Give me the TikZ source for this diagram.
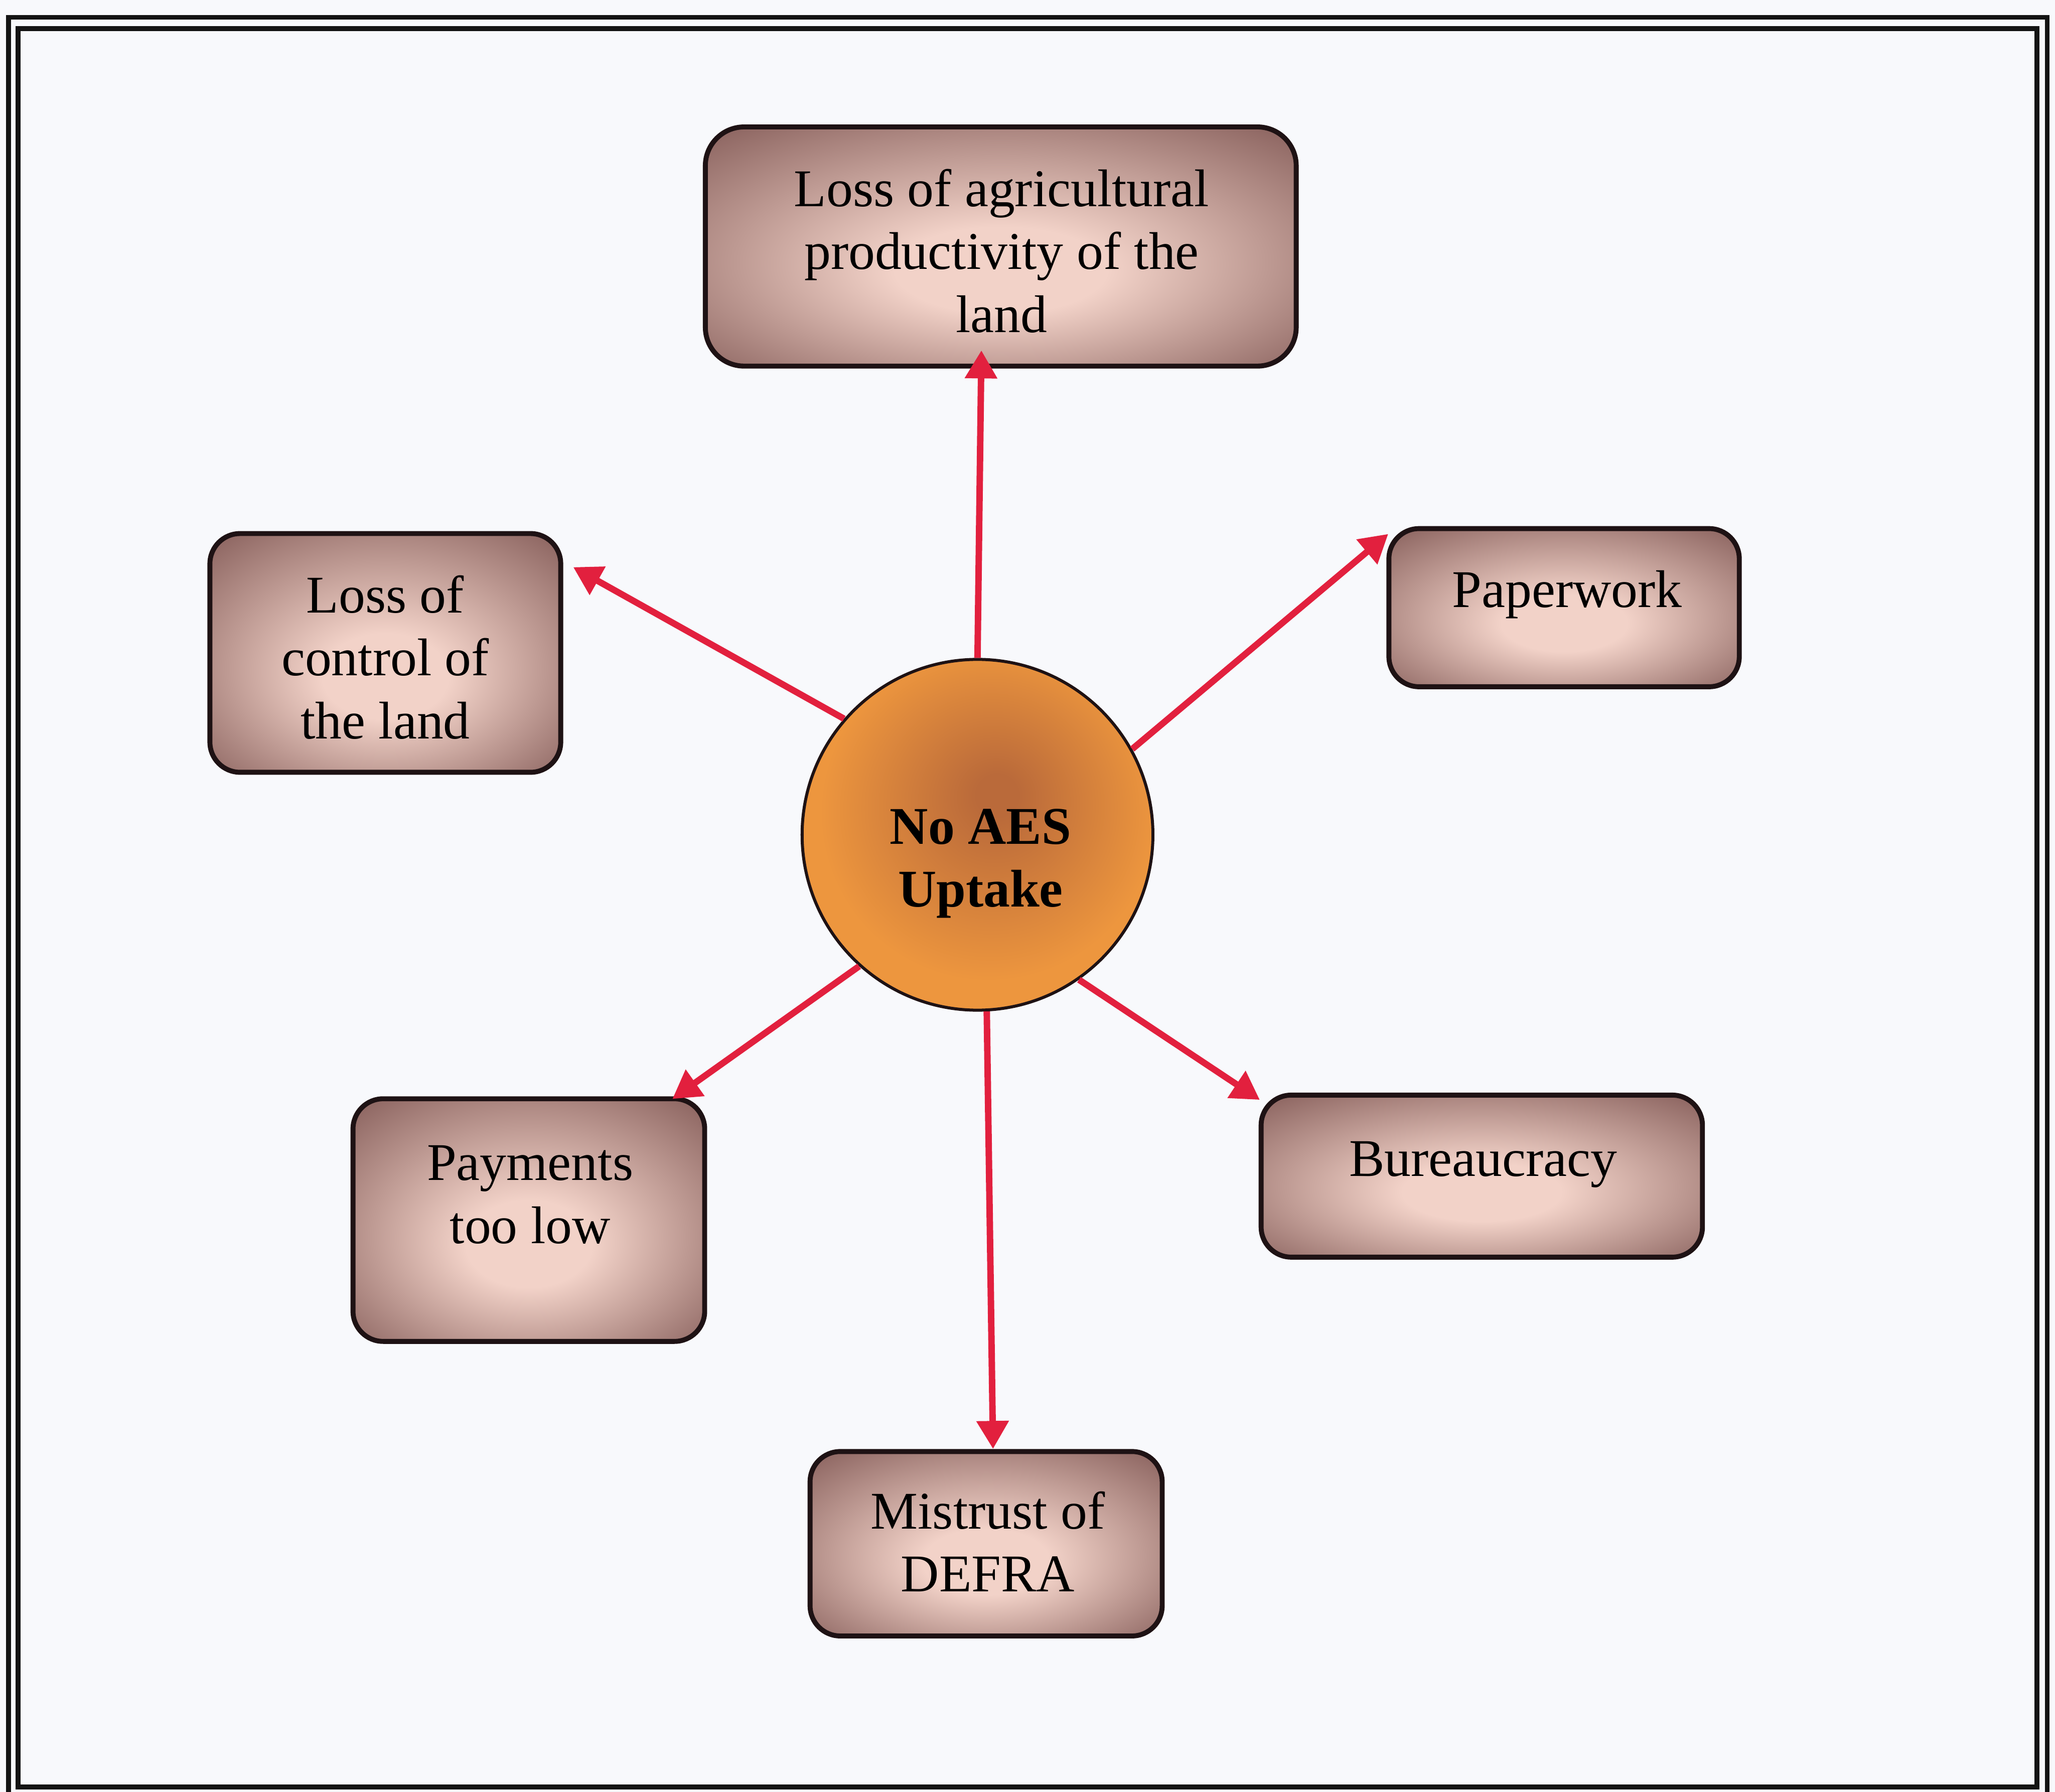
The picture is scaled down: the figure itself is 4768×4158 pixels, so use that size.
\documentclass[tikz,border=0pt]{standalone}
\usepackage{fontspec}
\setmainfont{Liberation Serif}
\usetikzlibrary{arrows.meta}

\definecolor{paper}{RGB}{248,249,252}
\definecolor{rimline}{RGB}{30,18,20}
\definecolor{boxdark}{RGB}{138,98,94}
\definecolor{boxlight}{RGB}{242,210,200}
\definecolor{hubrim}{RGB}{237,150,62}
\definecolor{hubcore}{RGB}{186,106,58}
\definecolor{arrowred}{RGB}{226,32,62}

% soft glow in the middle of each cause box, darker towards the rim
\pgfdeclareradialshading{boxglow}{\pgfpoint{0bp}{-6bp}}{%
  color(0bp)=(boxlight); color(9bp)=(boxlight); color(36bp)=(boxdark); color(50bp)=(boxdark)}
% orange disc with a darker core
\pgfdeclareradialshading{hubglow}{\pgfpoint{3bp}{6bp}}{%
  color(0bp)=(hubcore); color(3bp)=(hubcore); color(24bp)=(hubrim); color(50bp)=(hubrim)}

\tikzset{
  cause/.style={draw=rimline, line width=1.15pt, rounded corners=7pt, shade, shading=boxglow, inner sep=0pt},
  hubnode/.style={circle, draw=rimline, line width=0.7pt, shade, shading=hubglow, inner sep=0pt, minimum size=81.4pt},
  caption/.style={font=\fontsize{12.3}{14.6}\selectfont, align=center, inner sep=0pt, text=black},
  link/.style={draw=arrowred, line width=1.5pt, -{Triangle[width=7.2pt,length=6.5pt]}},
  frameline/.style={draw=black!92, line width=1.1pt}
}

\begin{document}
\begin{tikzpicture}[x=0.1pt, y=-0.1pt]
  % page and double frame
  \fill[paper] (0,0) rectangle (4768,4158);
  \useasboundingbox (0,0) rectangle (4768,4158);
  \draw[frameline] (20,40) rectangle (4750,4175);
  \draw[frameline, line width=1.2pt] (42,66) rectangle (4726,4146);

  % central disc
  \node[hubnode] (hub) at (2268,1937) {};
  \node[caption, font=\fontsize{12.3}{14.6}\selectfont\bfseries] (hubT) at (2275,2004) {No AES\\Uptake};

  % cause boxes
  \node[cause, rounded corners=9pt, minimum width=137.1pt, minimum height=55.5pt] (prod) at (2322,572) {};
  \node[cause, minimum width=81.4pt, minimum height=55.4pt] (ctrl) at (894,1515) {};
  \node[cause, minimum width=81.3pt, minimum height=36.7pt] (paperw) at (3629,1410) {};
  \node[cause, minimum width=81.6pt, minimum height=56.3pt] (pay) at (1227,2831) {};
  \node[cause, minimum width=102.4pt, minimum height=37.6pt] (bur) at (3438,2729) {};
  \node[cause, minimum width=81.7pt, minimum height=42.8pt] (defra) at (2288,3582) {};

  % box captions
  \node[caption] (prodT) at (2324,582) {Loss of agricultural\\productivity of the\\land};
  \node[caption] (ctrlT) at (894,1525) {Loss of\\control of\\the land};
  \node[caption, anchor=base] (paperwT) at (3636,1409) {Paperwork};
  \node[caption] (payT) at (1230,2772) {Payments\\too low};
  \node[caption, anchor=base] (burT) at (3441,2729) {Bureaucracy};
  \node[caption] (defraT) at (2292,3577) {Mistrust of\\DEFRA};

  % arrow tips
  \coordinate (tipProd) at (2277,813);
  \coordinate (tipCtrl) at (1330,1316);
  \coordinate (tipPaper) at (3221,1239);
  \coordinate (tipPay) at (1560,2550);
  \coordinate (tipDefra) at (2304,3362);
  \coordinate (tipBur) at (2923,2552);

  % connectors from the disc
  \draw[link] (hub.90) -- (tipProd);
  \draw[link] (hub.139.6) -- (tipCtrl);
  \draw[link] (hub.29) -- (tipPaper);
  \draw[link] (hub.228) -- (tipPay);
  \draw[link] (hub.273.2) -- (tipDefra);
  \draw[link] (hub.305.7) -- (tipBur);
\end{tikzpicture}
\end{document}
